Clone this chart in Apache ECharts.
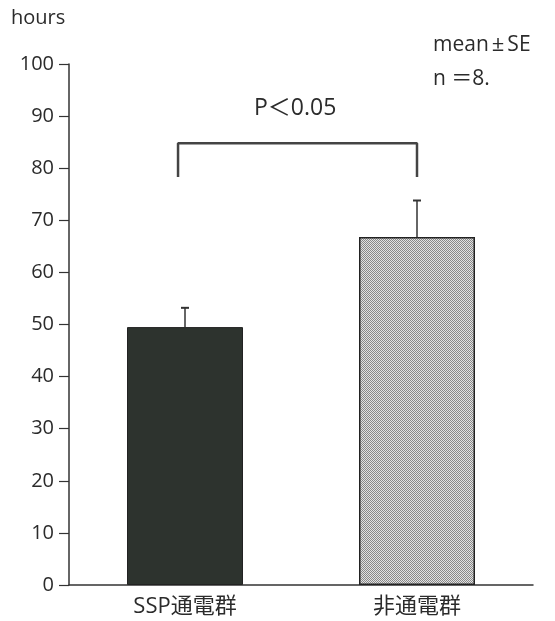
<!DOCTYPE html>
<html><head><meta charset="utf-8">
<script src="https://cdn.jsdelivr.net/npm/echarts@6/dist/echarts.min.js"></script>
<style>html,body{margin:0;padding:0;background:#fff}#c{width:555px;height:621px}</style>
</head><body><div id="c"></div>
<script>
const categories = ['SSP通電群', '非通電群'];
const means = [49.5, 66.8];
const seUpper = [53.2, 73.8];
const yTicks = [0, 10, 20, 30, 40, 50, 60, 70, 80, 90, 100];
const bracketX = [0.47, 0.47, 1.5, 1.5];
const bracketY = [78.3, 84.8, 84.8, 78.3];

const FONT = '"Open Sans","Noto Sans CJK JP",sans-serif';
const TXT = '#2b2b2b';

// stipple pattern for second bar
const pc = document.createElement('canvas');
pc.width = 4; pc.height = 4;
const pctx = pc.getContext('2d');
pctx.fillStyle = '#e2e2e2'; pctx.fillRect(0, 0, 4, 4);
pctx.fillStyle = '#888';
for (let y = 0; y < 4; y++) for (let x = 0; x < 4; x++) if ((x + y) % 2 === 0) pctx.fillRect(x, y, 1, 1);

const chart = echarts.init(document.getElementById('c'), null, {renderer: 'canvas'});
chart.setOption({
  animation: false,
  backgroundColor: '#fff',
  grid: {left: 69, right: 22, top: 64, bottom: 36, containLabel: false},
  xAxis: [{
    type: 'category', data: categories,
    axisLine: {lineStyle: {color: '#333', width: 1.5}},
    axisTick: {show: false},
    axisLabel: {color: TXT, fontSize: 22, fontFamily: FONT, margin: 11}
  }, {
    type: 'value', min: 0, max: 2, show: false
  }],
  yAxis: {
    type: 'value', min: 0, max: 100, interval: 10,
    axisLine: {show: true, lineStyle: {color: '#333', width: 1.5}},
    axisTick: {show: true, length: 10, lineStyle: {color: '#333', width: 1.2}},
    splitLine: {show: false},
    axisLabel: {color: TXT, fontSize: 20, fontFamily: FONT, margin: 15,
      formatter: v => yTicks.includes(v) ? String(v) : ''}
  },
  series: [{
    type: 'bar', barWidth: '50%',
    data: [
      {value: means[0], itemStyle: {color: '#2d332e', borderColor: '#222', borderWidth: 1}},
      {value: means[1], itemStyle: {color: {image: pc, repeat: 'repeat'}, borderColor: '#222', borderWidth: 1.5}}
    ],
    z: 2
  }, {
    type: 'custom',
    data: means.map((m, i) => [i, m, seUpper[i]]),
    renderItem: (params, api) => {
      const p0 = api.coord([api.value(0), api.value(1)]);
      const p1 = api.coord([api.value(0), api.value(2)]);
      return {type: 'group', children: [
        {type: 'line', shape: {x1: p0[0], y1: p0[1], x2: p1[0], y2: p1[1]}, style: {stroke: '#333', lineWidth: 1.5}},
        {type: 'line', shape: {x1: p1[0] - 4, y1: p1[1], x2: p1[0] + 4, y2: p1[1]}, style: {stroke: '#333', lineWidth: 2}}
      ]};
    },
    z: 3
  }, {
    type: 'line', xAxisIndex: 1,
    data: bracketX.map((x, i) => [x, bracketY[i]]),
    symbol: 'none',
    lineStyle: {color: '#444', width: 2.5},
    z: 3
  }],
  graphic: [
    {type: 'text', left: 11, top: 8, style: {text: 'hours', fill: TXT, font: '20px ' + FONT}},
    {type: 'text', left: 254, top: 97, style: {text: 'P＜0.05', fill: TXT, font: '23px ' + FONT}},
    {type: 'text', left: 433, top: 34, style: {
      text: '{a|mean}{b|±}{a|SE}', fill: TXT,
      rich: {
        a: {fontSize: 21, fontFamily: FONT, fill: TXT},
        b: {fontSize: 22, fontFamily: FONT, fill: TXT, padding: [0, 3]}
      }}},
    {type: 'text', left: 433, top: 69, style: {text: 'n ＝8.', fill: TXT, font: '21px ' + FONT}}
  ]
});
</script>
</body></html>
